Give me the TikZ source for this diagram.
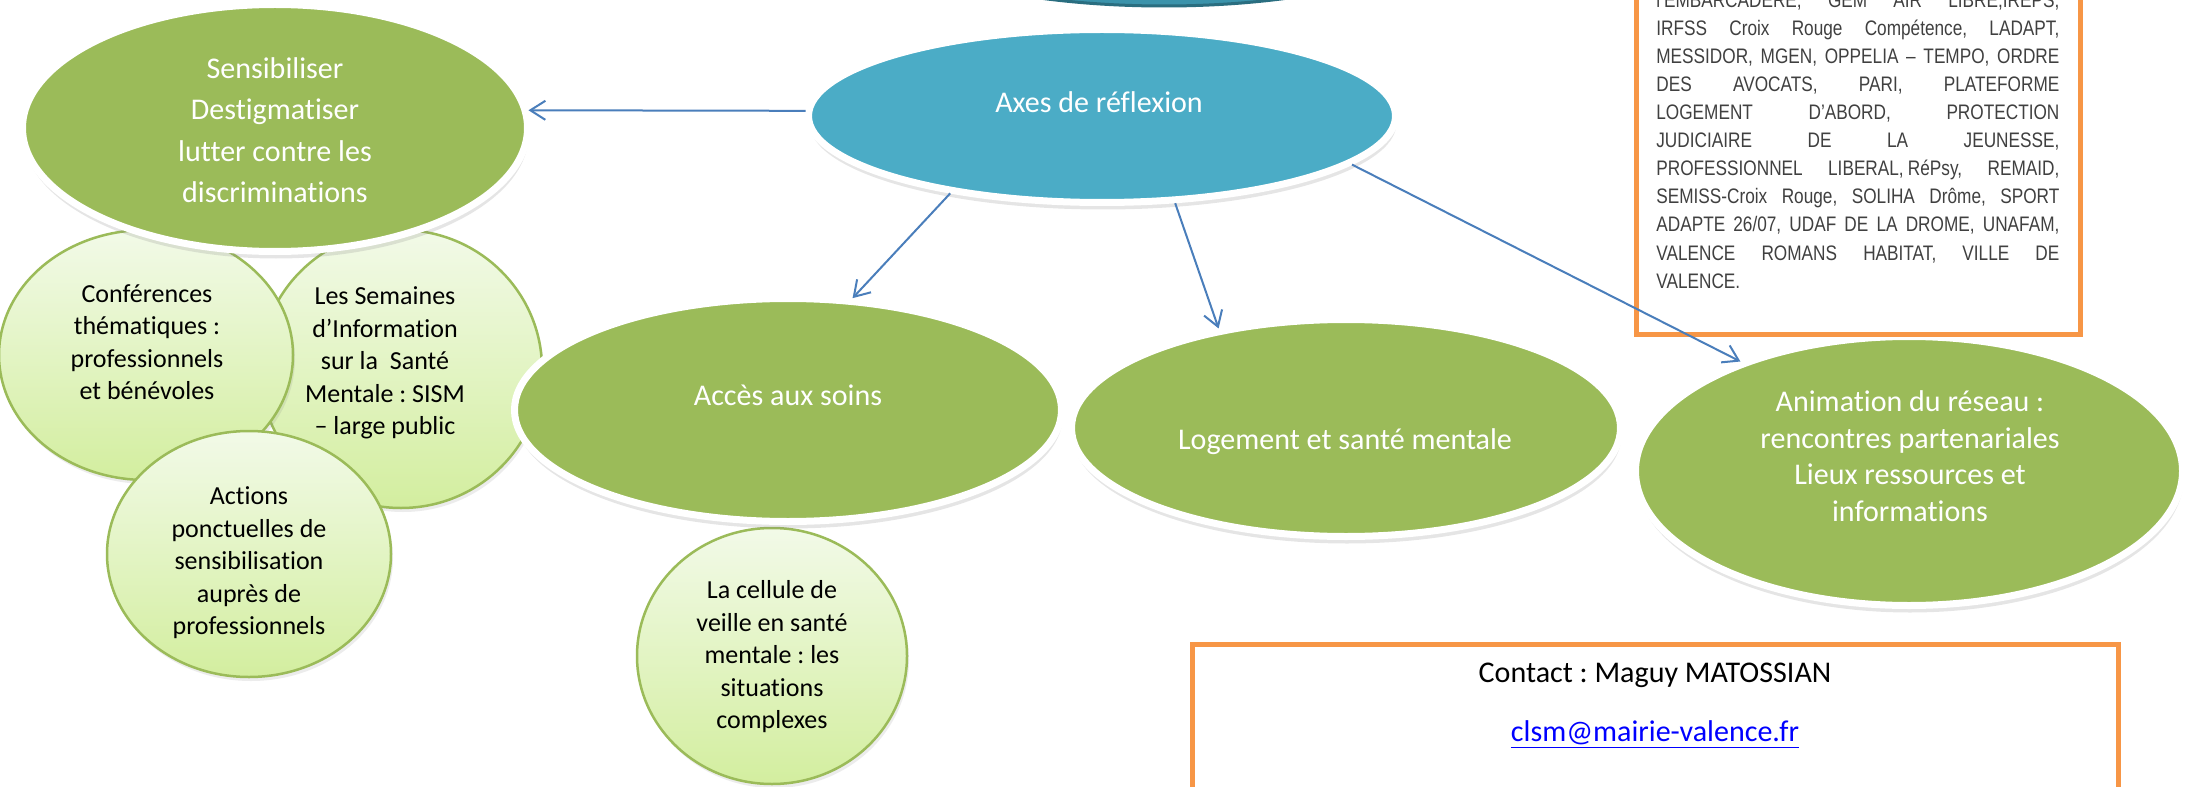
\documentclass[tikz,border=0pt]{standalone}
\usepackage{fontspec}
\setmainfont{Carlito}[Ligatures = NoCommon]
\newfontfamily\narrowfont[FakeStretch=0.82]{Liberation Sans}
\usetikzlibrary{shapes.geometric, arrows.meta, shadows}

\definecolor{ovalgreen}{HTML}{9BBB59}
\definecolor{ovalteal}{HTML}{4BACC6}
\definecolor{titleteal}{HTML}{3B93AB}
\definecolor{titlerim}{HTML}{2A6E80}
\definecolor{paletop}{HTML}{F2FAE8}
\definecolor{palebot}{HTML}{D3EE9F}
\definecolor{linkblue}{HTML}{4A7EBB}
\definecolor{boxorange}{HTML}{F79646}
\definecolor{partgray}{HTML}{404040}
\definecolor{mailblue}{HTML}{0000FF}

\newlength\pxl
\setlength\pxl{0.02cm}

\newcommand\ovalfont{\frenchspacing\fontsize{17.1pt}{23.6pt}\selectfont}
\newcommand\bubblefont{\frenchspacing\fontsize{14.8pt}{18.5pt}\selectfont}
\newcommand\partfont{\frenchspacing\narrowfont\fontsize{11.95pt}{15.9pt}\selectfont}

\begin{document}
\begin{tikzpicture} [x = 0.02cm, y = -0.02cm,
    oval/.style = {ellipse, fill = ovalgreen, draw = white, line width = 7\pxl, inner sep = 0pt,
      drop shadow = {shadow xshift = 1\pxl, shadow yshift = -7\pxl, opacity = .2}},
    bubble/.style = {ellipse, top color = paletop, bottom color = palebot, draw = ovalgreen,
      line width = 2.5\pxl, inner sep = 0pt,
      drop shadow = {shadow xshift = 2\pxl, shadow yshift = -4\pxl, opacity = .15}},
    ovaltxt/.style = {text = white, align = center, font = \ovalfont, inner sep = 0pt},
    bubtxt/.style = {text = black, align = center, font = \bubblefont, inner sep = 0pt},
    framebox/.style = {rectangle, draw = boxorange, line width = 5\pxl, fill = white, inner sep = 0pt},
    parttxt/.style = {anchor = base west, text = partgray, font = \partfont, inner sep = 0pt},
    link/.style = {draw = linkblue, line width = 2\pxl, -{Straight Barb[length = 0.3cm, width = 0.38cm]}}]

  \useasboundingbox (0,0) rectangle (2190,787);
  \fill[white] (0,0) rectangle (2190,787);

  \node[ellipse, fill = titleteal, draw = titlerim, line width = 3\pxl,
    minimum width = 580\pxl, minimum height = 166\pxl] (titre) at (1164,-77) {};

  \node[bubble, minimum width = 282\pxl, minimum height = 278\pxl] (sism) at (401,369) {};
  \node[bubble, minimum width = 294\pxl, minimum height = 250\pxl] (conf) at (146,355) {};
  \node[bubble, minimum width = 284\pxl, minimum height = 246\pxl] (actions) at (249,554) {};
  \node[bubble, minimum width = 270\pxl, minimum height = 256\pxl] (veille) at (772,656) {};

  \node[oval, minimum width = 505\pxl, minimum height = 247\pxl] (sens) at (275,128) {};
  \node[oval, fill = ovalteal, minimum width = 587\pxl, minimum height = 173\pxl] (axes) at (1102,116) {};
  \node[oval, minimum width = 547\pxl, minimum height = 223\pxl] (acces) at (788,410) {};
  \node[oval, minimum width = 549\pxl, minimum height = 217\pxl] (logement) at (1346,428) {};
  \node[oval, minimum width = 547\pxl, minimum height = 269\pxl] (anim) at (1909,471) {};

  \node[framebox, minimum width = 444\pxl, minimum height = 394\pxl] (partners) at (1858.5,137.5) {};
  \node[framebox, minimum width = 926\pxl, minimum height = 206\pxl] (contact) at (1655.5,747.5) {};

  \node[ovaltxt] (sens-txt) at (275,130) {Sensibiliser\\ Destigmatiser\\ lutter contre les\\ discriminations};
  \node[ovaltxt] (axes-txt) at (1099,102) {Axes de réflexion};
  \node[ovaltxt] (acces-txt) at (788,395) {Accès aux soins};
  \node[ovaltxt] (logement-txt) at (1345,442) {Logement et santé mentale};
  \node[ovaltxt, font = {\frenchspacing\fontsize{17.1pt}{20.8pt}\selectfont}] (anim-txt) at (1910,456) {Animation du réseau :\\ rencontres partenariales\\ Lieux ressources et\\ informations};

  \node[bubtxt] (conf-txt) at (147,342) {Conférences\\ thématiques :\\ professionnels\\ et bénévoles};
  \node[bubtxt] (sism-txt) at (385,363) {Les Semaines\\ d’Information\\ sur la\ \ Santé\\ Mentale : SISM\\ – large public};
  \node[bubtxt] (actions-txt) at (249,563) {Actions\\ ponctuelles de\\ sensibilisation\\ auprès de\\ professionnels};
  \node[bubtxt] (veille-txt) at (772,657) {La cellule de\\ veille en santé\\ mentale : les\\ situations\\ complexes};

  \foreach \partline [count = \i] in {{l’EMBARCADERE, GEM AIR LIBRE,IREPS,},
      {IRFSS Croix Rouge Compétence, LADAPT,},
      {MESSIDOR, MGEN, OPPELIA – TEMPO, ORDRE},
      {DES AVOCATS, PARI, PLATEFORME},
      {LOGEMENT D’ABORD, PROTECTION},
      {JUDICIAIRE DE LA JEUNESSE,},
      {PROFESSIONNEL LIBERAL,\hspace{0.2em}RéPsy, REMAID,},
      {SEMISS-Croix Rouge, SOLIHA Drôme, SPORT},
      {ADAPTE 26/07, UDAF DE LA DROME, UNAFAM,},
      {VALENCE ROMANS HABITAT, VILLE DE},
      {VALENCE.\hfill}}
    \node[parttxt] (part\i) at (1656,{8 + 28*(\i - 1)}) {\makebox[403\pxl][s]{\partline}};

  \node[text = black, font = \ovalfont, inner sep = 0pt] (contact-name) at (1655,675) {Contact : Maguy MATOSSIAN};
  \node[text = mailblue, font = \ovalfont, inner sep = 0pt] (contact-mail) at (1655,735) {\underline{clsm@mairie-valence.fr}};

  \draw[link] (axes.179) -- (sens.4);
  \draw[link] (axes.207) -- (acces.60);
  \draw[link] (axes.310) -- (logement.142);
  \draw[link] (axes.349) -- (anim.147);
\end{tikzpicture}
\end{document}
